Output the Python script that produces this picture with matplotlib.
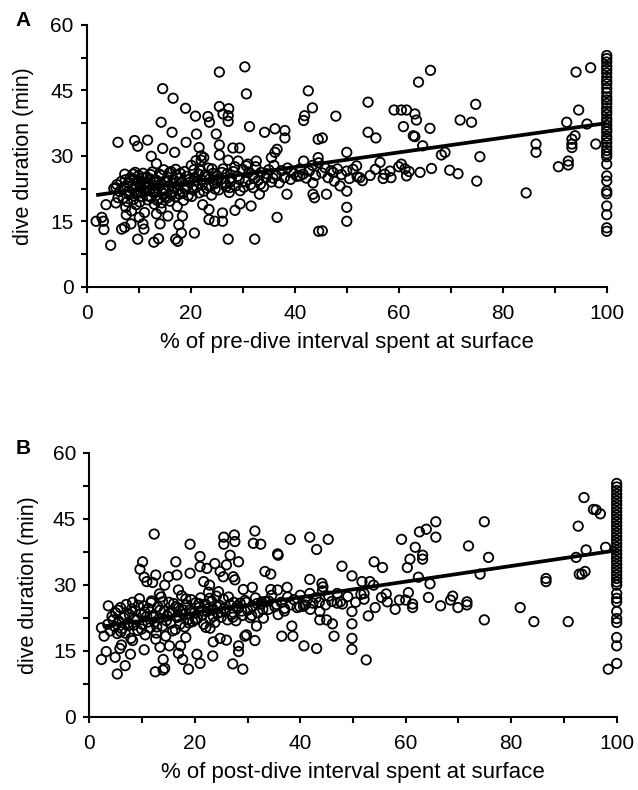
import numpy as np
import matplotlib
matplotlib.use("Agg")
import matplotlib.pyplot as plt

plt.rcParams['font.family'] = ['Liberation Sans', 'DejaVu Sans']

# panel A: pre-dive surface time vs dive duration (scattered points)
pre_x = [1.8, 2.9, 3.2, 3.3, 3.7, 4.6, 6.0, 5.6, 6.0, 5.6, 6.7, 7.3, 7.3, 7.6, 8.5,
         9.2, 9.8, 9.8, 10.1, 10.8, 11.0, 11.7, 12.4, 12.9, 13.4, 13.4, 13.8, 14.1,
         14.3, 14.6, 14.6, 14.3, 15.6, 16.4, 16.6, 16.9, 17.1, 17.5, 17.7, 18.2,
         18.4, 19.0, 19.1, 20.7, 20.9, 21.1, 21.6, 22.0, 22.0, 22.3, 23.3, 23.5,
         23.6, 23.5, 24.6, 24.9, 25.5, 25.5, 25.5, 25.5, 26.1, 26.1, 26.2, 27.2,
         27.2, 27.3, 27.2, 27.2, 27.5, 28.1, 28.5, 29.1, 29.4, 29.5, 30.4, 30.7,
         30.7, 31.3, 31.6, 32.3, 32.0, 32.6, 33.2, 34.2, 35.5, 36.2, 36.2, 36.6,
         36.6, 38.1, 38.1, 38.5, 39.3, 41.0, 41.7, 41.9, 41.7, 42.6, 43.4, 43.5,
         43.5, 43.8, 44.6, 44.5,
         45.3, 45.3, 46.1, 44.5, 47.9, 50.0, 50.0, 50.0, 50.0, 50.0, 47.4, 48.7,
         51.9, 52.5, 54.1, 54.1, 55.6, 56.4, 57.3, 58.3, 59.1, 60.5, 61.5, 60.9,
         63.1, 63.4, 62.8, 63.1, 63.8, 64.6, 66.1, 66.0, 66.3, 60.5, 61.5, 64.1,
         68.2, 68.9, 69.8, 71.4, 71.8, 74.0, 74.8, 75.0, 75.6, 84.5, 86.4, 86.4,
         90.7, 92.3, 92.6, 92.6, 93.3, 93.3, 93.3, 93.9, 94.1, 94.6, 96.2, 96.9,
         97.9]
pre_y = [15.0, 15.9, 15.0, 13.1, 18.8, 9.5, 33.1, 22.7, 20.4, 19.2, 13.2, 13.6, 25.8,
         16.5, 14.4, 33.5, 32.2, 10.9, 15.9, 14.4, 13.2, 33.6, 29.9, 10.2, 28.2,
         16.7, 11.0, 14.4, 37.7, 45.4, 31.7, 17.9, 16.2, 35.4, 43.2, 30.8, 10.9,
         10.4, 14.2, 12.3, 16.2, 40.9, 33.1, 12.3, 39.1, 35.0, 31.9, 30.0, 29.0,
         18.8, 39.0, 17.7, 37.7, 15.4, 15.0, 35.0, 49.2, 41.3, 32.5, 30.2, 16.9,
         15.0, 39.6, 39.2, 37.9, 40.8, 10.9, 29.0, 22.7, 31.8, 17.5, 28.8, 31.8,
         19.0, 50.4, 44.2, 27.7, 36.7, 18.5, 10.9, 22.7, 28.8, 21.2, 35.4, 29.6,
         36.2, 30.8, 31.5, 15.9, 35.8, 34.1, 21.2, 26.5, 25.4, 28.8, 39.2, 38.1,
         44.9, 41.0, 23.8, 21.2, 20.4, 12.7, 33.8,
         34.1, 12.8, 21.2, 29.6, 39.1, 30.8, 21.9, 18.2, 15.0, 26.5, 26.2, 23.1,
         27.7, 25.0, 42.3, 35.4, 34.1, 28.5, 25.8, 26.5, 40.5, 40.5, 40.5, 36.7,
         39.6, 38.2, 34.6, 34.4, 46.9, 32.3, 49.6, 36.3, 27.1, 28.1, 25.4, 26.2,
         30.2, 30.8, 26.7, 25.9, 38.2, 37.7, 41.8, 24.2, 29.8, 21.5, 32.7, 30.8,
         27.5, 37.7, 28.8, 27.9, 33.8, 32.7, 31.9, 34.6, 49.2, 40.5, 37.3, 50.2,
         32.7]

# panel A: dense band of dives near the fitted line
pre_band_x = [5.2, 5.8, 6.3, 6.6, 7.0, 7.2, 7.5, 7.8, 8.0, 8.2, 8.4, 8.6, 8.8, 9.0,
              9.1, 9.3, 9.5, 9.6, 9.8, 10.0, 10.2, 10.3, 10.5, 10.6, 10.8, 11.0,
              11.1, 11.3, 11.5, 11.7, 11.9, 12.0, 12.2, 12.4, 12.6, 12.8, 13.0,
              13.2, 13.4, 13.6, 13.8, 14.0, 14.2, 14.4, 14.6, 14.8, 15.0, 15.2,
              15.4, 15.6, 15.8, 16.0, 16.2, 16.4, 16.6, 16.8, 17.0, 17.2, 17.4,
              17.6, 17.8, 18.0, 18.3, 18.6, 18.9, 19.2, 19.5, 19.8, 20.1, 20.4,
              20.7, 21.0, 21.3, 21.6, 21.9, 22.2, 22.5, 22.8, 23.1, 23.4, 23.7,
              24.0, 24.3, 24.6, 25.0, 25.4, 25.8, 26.2, 26.6, 27.0, 27.4, 27.8,
              28.2, 28.6, 29.0, 29.5, 30.0, 30.5, 31.0, 31.5, 32.0, 32.5, 33.0,
              33.5, 34.0, 34.5, 35.0, 35.5, 36.0, 36.5, 37.0, 37.5, 38.0, 38.6,
              39.2, 39.8, 40.4, 41.0, 41.6, 42.2, 42.8, 43.4, 44.0, 44.6, 45.2,
              45.8, 46.4, 47.0, 47.6, 48.2, 49.0, 50.5, 51.2, 52.0, 53.0, 54.5,
              55.5, 57.0, 58.5, 60.0, 61.2, 62.0,
              7.4, 8.1, 8.9, 9.4, 9.9, 10.4, 10.9, 11.4, 11.8, 12.3, 12.7, 13.1,
              13.5, 13.9, 14.3, 14.7, 15.1, 15.5, 15.9, 16.3, 16.7, 17.1, 17.5,
              17.9, 18.4, 18.8, 19.3, 19.7, 20.2, 20.6, 21.1, 21.5, 22.0, 22.5,
              23.0, 23.5, 24.1, 24.7, 25.3, 26.0, 26.8, 27.6, 28.5, 29.3, 30.2,
              31.2, 32.3, 33.4, 34.6, 35.8]
pre_band_y = [22.5, 23.4, 21.8, 24.1, 20.3, 22.9, 18.2, 19.5, 23.7, 21.1, 25.0,
              17.4, 22.4, 20.0, 24.6, 26.2, 18.8, 23.0, 21.5, 25.5, 19.4, 22.8,
              24.0, 20.7, 26.0, 23.4, 17.0, 21.9, 25.2, 19.9, 23.8, 22.1, 24.7,
              20.5, 26.3, 23.2, 18.9, 21.6, 24.4, 22.6, 20.1, 25.8, 23.6, 19.2,
              21.4, 26.8, 24.2, 22.0, 20.3, 25.1, 23.0, 19.6, 26.4, 21.8, 24.5,
              22.7, 20.6, 25.6, 18.4, 23.5, 21.2, 26.0, 24.0, 19.8, 22.4, 25.3,
              20.9, 23.9, 27.8, 22.2, 25.0, 28.9, 24.3, 21.5, 26.6, 23.3, 29.6,
              25.7, 22.6, 27.2, 24.8, 21.0, 26.0, 23.6, 25.5, 22.2, 24.6, 27.0,
              23.8, 25.9, 21.6, 24.9, 26.4, 23.1, 25.3, 22.0, 26.9, 24.1, 28.1,
              23.4, 25.6, 27.5, 24.4, 26.2, 22.9, 25.0, 26.8, 24.0, 27.8, 25.4,
              23.8, 26.6, 25.0, 27.2, 24.6, 26.0, 25.3, 27.0, 25.8, 24.9, 26.5,
              27.8, 25.5, 28.4, 26.1, 27.3, 25.0, 26.6, 24.2, 27.0, 25.7, 24.8,
              26.9, 25.2, 24.3, 25.5, 26.9, 24.8, 25.0, 27.5, 27.0, 26.4,
              24.5, 22.0, 25.8, 21.3, 23.9, 21.8, 24.9, 22.7, 20.8, 25.7, 21.9,
              24.3, 19.8, 23.1, 25.5, 22.3, 20.6, 24.0, 26.1, 21.1, 23.7, 26.9,
              22.2, 24.9, 21.4, 26.4, 23.0, 24.6, 20.7, 26.8, 22.9, 25.8, 24.5,
              21.9, 25.2, 23.1, 27.0, 22.4, 24.7, 26.2, 22.9, 24.0, 27.5, 24.6,
              22.8, 26.3, 24.8, 23.5, 25.9, 24.9]

# panel A: dives with 100 % of the interval at the surface
pre_full_y = [53.0, 52.3, 51.5, 50.5, 49.8, 49.0, 48.0, 47.2, 46.5, 45.5, 44.5,
              43.5, 42.8, 42.0, 41.0, 40.2, 39.5, 38.5, 37.8, 37.0, 36.2, 35.5,
              34.5, 33.8, 33.0, 32.0, 31.2, 30.5, 29.8, 28.1, 25.4, 24.2, 21.9,
              21.3, 18.5, 16.5, 13.5, 12.7]

# panel A fitted line (end points)
pre_fit_x = [1.8, 100]
pre_fit_y = [21.0, 37.5]

# panel B: post-dive surface time vs dive duration
post_x = [2.3, 2.3, 2.8, 3.2, 3.6, 4.9, 5.3, 5.8, 6.1, 6.8, 7.8, 8.2, 9.6, 10.1,
          10.4, 10.4, 10.9, 12.0, 12.3, 12.5, 12.6, 12.6, 13.3, 13.4, 14.0, 14.0,
          14.3, 14.3, 15.0, 15.2, 16.4, 16.6, 16.9, 16.9, 17.3, 17.7, 18.3, 18.8,
          19.1, 19.1, 20.4, 21.0, 21.0, 21.0, 21.7, 22.3, 22.6, 22.8, 22.9, 23.4,
          23.5, 23.8, 24.5, 24.8, 24.8, 25.4, 25.5, 25.5, 26.0, 26.0, 26.7, 27.2,
          27.3, 27.5, 27.6, 27.6, 28.3, 28.3, 28.3, 29.1, 29.2, 29.5, 29.8, 30.9,
          31.1, 31.4, 31.4, 31.7, 32.5, 32.7, 33.3, 34.4, 34.4, 35.7, 35.8, 35.7,
          36.5, 37.5, 38.1, 38.4, 38.6, 39.9, 40.7, 41.8, 41.8, 43.1, 43.1,
          45.3, 44.1, 44.3, 43.7, 43.7, 45.0, 46.1, 46.4, 40.9, 41.9, 47.9, 47.0,
          47.6, 49.8, 49.8, 49.8, 49.8, 49.8, 51.7, 52.1, 52.1, 52.5, 52.9, 53.2,
          53.9, 54.0, 54.2, 55.4, 55.6, 56.3, 56.5, 58.0, 58.8, 59.2, 60.0, 60.3,
          60.5, 60.8, 61.3, 61.3, 61.8, 62.4, 62.6, 63.2, 63.2, 63.9, 64.3, 64.6,
          65.7, 65.7, 66.6, 68.5, 68.9, 69.9, 71.6, 71.6, 71.9, 74.1, 74.9, 74.9,
          75.7, 81.7, 84.3, 86.6, 86.6, 90.8, 92.3, 92.7, 92.9, 93.4, 94.0, 93.8,
          94.2, 95.6, 96.1, 96.9, 97.9, 98.4]
post_y = [20.2, 13.0, 18.3, 14.8, 25.2, 13.5, 9.7, 15.5, 16.3, 11.6, 14.2, 17.3,
          33.5, 35.2, 31.7, 15.2, 30.7, 30.5, 41.5, 10.2, 32.2, 17.6, 27.9, 15.8,
          13.0, 10.6, 11.0, 29.9, 31.8, 16.1, 35.2, 32.2, 28.8, 14.4, 16.1, 13.0,
          18.0, 10.8, 39.2, 32.6, 14.2, 12.1, 36.4, 34.1, 30.7, 33.7, 24.6, 29.9,
          20.1, 13.8, 17.0, 34.8, 28.4, 33.0, 17.8, 31.8, 40.8, 39.2, 34.5, 17.4,
          36.7, 12.0, 31.8, 41.3, 39.8, 31.1, 35.2, 16.1, 14.8, 10.8, 28.9, 18.3,
          18.6, 29.4, 39.4, 42.2, 17.3, 20.6, 39.2, 26.1, 33.0, 32.4, 28.9, 37.0,
          36.7, 28.8, 18.3, 29.4, 40.3, 20.6, 18.3, 25.0, 16.1, 40.8, 31.2, 38.0,
          15.5,
          40.3, 30.3, 29.5, 23.9, 22.0, 22.0, 21.1, 18.3, 25.4, 24.4, 34.2, 25.8,
          26.1, 32.0, 23.9, 21.1, 17.8, 15.3, 30.7, 28.0, 26.7, 12.9, 22.9, 30.7,
          29.9, 35.2, 24.8, 27.1, 33.9, 27.9, 26.1, 24.4, 26.5, 40.3, 26.5, 33.9,
          28.2, 35.8, 25.6, 24.8, 38.5, 31.7, 42.0, 36.7, 35.8, 42.6, 27.1, 30.2,
          44.3, 40.8, 25.2, 26.5, 27.4, 24.8, 26.1, 25.4, 38.8, 32.4, 44.3, 22.0,
          36.2, 24.8, 21.6, 31.4, 30.7, 21.6, 36.2, 43.3, 32.4, 32.4, 33.0, 49.8,
          37.9, 47.1, 47.0, 46.1, 38.5, 10.8]

post_band_x = [3.5, 4.0, 4.3, 4.8, 5.0, 5.3, 5.6, 5.9, 6.2, 6.5, 6.8, 7.0, 7.3,
               7.6, 7.9, 8.2, 8.4, 8.7, 9.0, 9.2, 9.5, 9.8, 10.0, 10.3, 10.6,
               10.9, 11.2, 11.5, 11.8, 12.1, 12.4, 12.7, 13.0, 13.3, 13.6, 13.9,
               14.2, 14.5, 14.8, 15.1, 15.4, 15.7, 16.0, 16.3, 16.6, 16.9, 17.2,
               17.5, 17.8, 18.1, 18.4, 18.7, 19.0, 19.3, 19.6, 19.9, 20.2, 20.5,
               20.8, 21.1, 21.4, 21.7, 22.0, 22.3, 22.6, 22.9, 23.2, 23.5, 23.8,
               24.1, 24.4, 24.7, 25.0, 25.4, 25.8, 26.2, 26.6, 27.0, 27.4, 27.8,
               28.2, 28.6, 29.0, 29.5, 30.0, 30.5, 31.0, 31.5, 32.0, 32.5, 33.0,
               33.5, 34.0, 34.6, 35.2, 35.8, 36.4, 37.0, 37.6, 38.2, 38.8, 39.4,
               40.0, 40.6, 41.2, 41.8, 42.4, 43.0, 43.6, 44.2, 44.8, 45.4, 46.0,
               47.0, 48.0, 49.0, 50.5, 51.5,
               4.5, 5.4, 6.0, 6.7, 7.4, 8.0, 8.6, 9.3, 9.9, 10.5, 11.1, 11.7,
               12.2, 12.8, 13.4, 13.9, 14.6, 15.2, 15.8, 16.4, 17.0, 17.7, 18.3,
               18.9, 19.5, 20.1, 20.8, 21.5, 22.1, 22.8, 23.5, 24.2, 24.9, 25.6,
               26.4, 27.2, 28.0, 28.9, 29.8, 30.8, 31.8, 32.9, 34.0, 35.5, 37.0]
post_band_y = [21.0, 19.5, 22.8, 20.5, 23.6, 18.9, 21.7, 24.8, 20.0, 22.5, 19.0,
               25.5, 21.3, 23.2, 17.8, 26.0, 20.8, 24.1, 22.0, 19.6, 26.8, 23.4,
               21.0, 25.2, 18.6, 22.8, 24.6, 20.2, 26.3, 23.0, 21.5, 19.0, 25.0,
               22.4, 27.2, 20.6, 24.0, 18.3, 22.9, 26.0, 21.2, 23.8, 25.7, 19.8,
               22.6, 24.7, 21.0, 27.5, 23.3, 20.4, 25.4, 22.0, 24.2, 26.6, 21.6,
               23.6, 25.9, 22.3, 24.8, 27.0, 23.1, 21.0, 25.6, 23.9, 28.3, 22.2,
               26.2, 24.4, 21.4, 27.4, 23.5, 25.3, 22.6, 26.7, 24.0, 22.0, 25.5,
               23.2, 26.0, 21.8, 24.6, 25.8, 23.0, 26.4, 24.2, 22.5, 25.1, 27.0,
               23.6, 25.6, 22.4, 26.2, 24.4, 27.6, 25.0, 23.2, 26.0, 24.6, 27.2,
               25.4, 26.6, 24.8, 27.6, 25.1, 26.4, 28.0, 25.8, 27.0, 26.0, 28.6,
               25.4, 27.4, 26.2, 28.0, 25.6, 27.3, 26.0, 27.8,
               22.0, 24.2, 19.3, 23.0, 20.7, 24.5, 22.2, 25.3, 19.9, 23.8, 21.5,
               25.9, 22.6, 20.4, 24.2, 26.1, 21.8, 23.5, 19.5, 25.0, 22.7, 24.3,
               26.8, 21.3, 23.9, 22.1, 25.7, 24.0, 20.3, 26.9, 22.8, 25.0, 23.8,
               24.6, 27.2, 22.6, 25.1, 24.0, 26.0, 23.0, 25.7, 24.4, 26.3, 25.5,
               24.0]

post_full_y = [53.0, 52.2, 51.4, 50.6, 49.8, 49.0, 48.2, 47.4, 46.6, 45.8, 45.0,
               44.2, 43.4, 42.6, 41.8, 41.0, 40.2, 39.4, 38.6, 37.8, 37.0, 36.2,
               35.4, 34.6, 33.8, 33.0, 32.2, 31.4, 30.6, 29.9, 28.0, 26.9, 26.1,
               23.9, 22.3, 21.4, 18.0, 16.1, 12.1]

post_fit_x = [2.6, 100]
post_fit_y = [20.5, 37.8]

panels = [
    ("A", "% of pre-dive interval spent at surface",
     [0.1360, 0.6371, 0.8150, 0.3313], -0.122,
     pre_x + pre_band_x, pre_y + pre_band_y, pre_full_y, pre_fit_x, pre_fit_y),
    ("B", "% of post-dive interval spent at surface",
     [0.1400, 0.0928, 0.8266, 0.3342], -0.116,
     post_x + post_band_x, post_y + post_band_y, post_full_y, post_fit_x, post_fit_y),
]

tick_fs = 15
label_fs = 15.5

fig = plt.figure(figsize=(6.38, 7.9), dpi=100)

for letter, xlabel, rect, ylab_x, xs, ys, full_y, fx, fy in panels:
    ax = fig.add_axes(rect)
    all_x = xs + [100] * len(full_y)
    all_y = ys + full_y
    ax.scatter(all_x, all_y, s=46, facecolors='none', edgecolors='black',
               linewidths=1.3, clip_on=False, zorder=3)
    ax.plot(fx, fy, color='black', lw=2.7, zorder=4, solid_capstyle='butt')

    ax.set_xlim(0, 100)
    ax.set_ylim(0, 60)
    ax.set_xticks(np.arange(0, 101, 20))
    ax.set_xticks(np.arange(10, 100, 20), minor=True)
    ax.set_yticks(np.arange(0, 61, 15))
    ax.set_yticks(np.arange(7.5, 60, 15), minor=True)
    for s in ('top', 'right'):
        ax.spines[s].set_visible(False)
    for s in ('left', 'bottom'):
        ax.spines[s].set_linewidth(1.5)
    ax.tick_params(which='both', direction='out', length=4.5, width=1.5,
                   labelsize=tick_fs)
    ax.tick_params(axis='x', which='both', pad=8)
    ax.tick_params(axis='y', which='both', pad=5)

    ax.set_xlabel(xlabel, fontsize=16, va='center')
    ax.xaxis.set_label_coords(0.5, -0.212)
    ax.set_ylabel("dive duration (min)", fontsize=label_fs, va='center')
    ax.yaxis.set_label_coords(ylab_x, 0.5)

    fig.text(23.4 / 638, rect[1] + rect[3] + 4 / 790, letter, fontsize=tick_fs,
             fontweight='bold', ha='center', va='center')

fig.savefig("out.png", dpi=100)
